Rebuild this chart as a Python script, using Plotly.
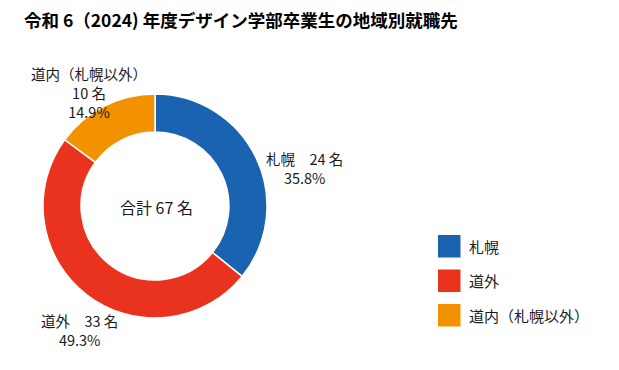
import math
import plotly.graph_objects as go

title = "令和 6（2024) 年度デザイン学部卒業生の地域別就職先"
categories = ["札幌", "道外", "道内（札幌以外）"]
values = [24, 33, 10]
colors = ["#1A63B0", "#E9331F", "#F39200"]
total_label = "合計 67 名"

W, H = 619, 370
OFF = 8  # page body margin offset
FONT = "Noto Sans CJK JP, Noto Sans, sans-serif"
TXT = "#1a1a1a"

# label lines for each slice
total = sum(values)
label_lines = []
for c, v in zip(categories, values):
    pct = f"{v / total * 100:.1f}%"
    if len(c) > 3:
        label_lines.append([c, f"{v} 名", pct])
    else:
        label_lines.append([f"{c}　{v} 名", pct])

# layout / style (pixel positions in reference space)
cx, cy, r = 155 - OFF, 206 - OFF, 112
label_shift = [(48, 1.5), (-7, 26.5), (-15, -31)]  # nudges from slice outer mid-point
line_step = 17.8

fig = go.Figure(go.Pie(
    labels=categories,
    values=values,
    textinfo="none",
    automargin=False,
    hole=0.66,
    sort=False,
    direction="clockwise",
    rotation=0,
    marker=dict(colors=colors, line=dict(color="white", width=1.5)),
    domain=dict(x=[(cx - r) / W, (cx + r) / W], y=[(H - cy - r) / H, (H - cy + r) / H]),
    showlegend=False,
))

annotations = [dict(
    text=total_label, x=(cx + 1.5) / W, y=(H - cy - 1) / H, xref="paper", yref="paper",
    showarrow=False, font=dict(family=FONT, size=16, color=TXT),
    xanchor="center", yanchor="middle",
)]

# outside labels placed at each slice's mid angle
cum = 0
for lines, v, (dx, dy) in zip(label_lines, values, label_shift):
    mid = (cum + v / 2) / total * 2 * math.pi
    cum += v
    px = cx + r * math.sin(mid) + dx
    py = cy - r * math.cos(mid) + dy + (len(lines) - 1) * line_step / 2
    annotations.append(dict(
        text="<br>".join(lines), x=px / W, y=(H - py) / H,
        xref="paper", yref="paper", showarrow=False, align="center",
        xanchor="center", yanchor="middle",
        font=dict(family=FONT, size=14.5, color=TXT)))

# legend drawn as squares + text
shapes = []
lx, ly0, step, sz = 438 - OFF, 235 - OFF, 34.5, 22.5
for i, (c, col) in enumerate(zip(categories, colors)):
    top = ly0 + i * step
    shapes.append(dict(type="rect", xref="paper", yref="paper",
                       x0=lx / W, x1=(lx + sz) / W,
                       y0=(H - top - sz) / H, y1=(H - top) / H,
                       fillcolor=col, line=dict(width=0)))
    annotations.append(dict(text=c, x=(lx + sz + 6) / W, y=(H - top - sz / 2) / H,
                            xref="paper", yref="paper", showarrow=False,
                            xanchor="left", yanchor="middle",
                            font=dict(family=FONT, size=15, color=TXT)))

fig.update_layout(
    width=W, height=H,
    margin=dict(l=0, r=0, t=0, b=0, autoexpand=False),
    paper_bgcolor="white", plot_bgcolor="white",
    title=dict(text=f"<b>{title}</b>", x=(24 - OFF) / W, xanchor="left", xref="container",
               y=1 - (21 - OFF) / H, yanchor="middle", yref="container", automargin=False,
               font=dict(family=FONT, size=17.5, color="#000000")),
    annotations=annotations, shapes=shapes,
)
fig.write_html("out.html")
